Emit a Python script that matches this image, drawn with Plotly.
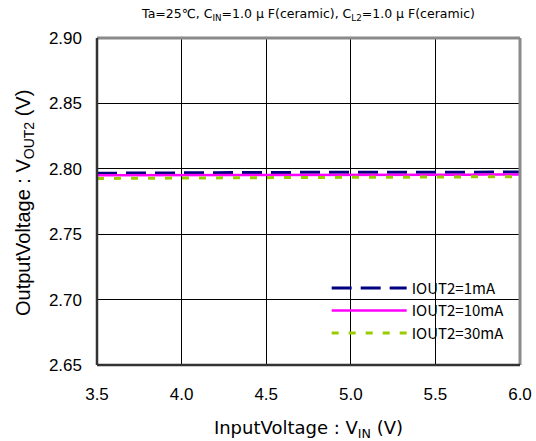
import plotly.graph_objects as go

# Input voltage sweep (V)
vin = [3.5, 3.6, 3.7, 3.8, 3.9, 4.0, 4.1, 4.2, 4.3, 4.4, 4.5, 4.6, 4.7,
       4.8, 4.9, 5.0, 5.1, 5.2, 5.3, 5.4, 5.5, 5.6, 5.7, 5.8, 5.9, 6.0]

# Output voltage VOUT2 (V) for each load current
vout_1ma = [2.7966, 2.7966, 2.7966, 2.7970, 2.7970, 2.7970, 2.7968, 2.7970,
            2.7972, 2.7972, 2.7972, 2.7972, 2.7972, 2.7972, 2.7972, 2.7972,
            2.7972, 2.7972, 2.7972, 2.7970, 2.7970, 2.7972, 2.7975, 2.7975,
            2.7975, 2.7975]
vout_10ma = [2.7950, 2.7950, 2.7950, 2.7951, 2.7951, 2.7951, 2.7951, 2.7952,
             2.7952, 2.7952, 2.7952, 2.7952, 2.7953, 2.7953, 2.7953, 2.7953,
             2.7953, 2.7954, 2.7954, 2.7954, 2.7954, 2.7955, 2.7955, 2.7956,
             2.7956, 2.7956]
vout_30ma = [2.7926, 2.7926, 2.7926, 2.7927, 2.7927, 2.7928, 2.7929, 2.7930,
             2.7931, 2.7932, 2.7932, 2.7933, 2.7933, 2.7934, 2.7934, 2.7934,
             2.7935, 2.7935, 2.7936, 2.7936, 2.7937, 2.7938, 2.7938, 2.7939,
             2.7939, 2.7940]

series = [
    ("IOUT2=1mA", vout_1ma, "#000080", "20px,9px", 3),
    ("IOUT2=10mA", vout_10ma, "#FF00FF", "solid", 2.5),
    ("IOUT2=30mA", vout_30ma, "#99CC00", "7px,10px", 3),
]

x_ticks = [3.5, 4.0, 4.5, 5.0, 5.5, 6.0]
y_ticks = [2.65, 2.70, 2.75, 2.80, 2.85, 2.90]

gothic = "Noto Sans CJK JP"
wide = "DejaVu Sans"
sans = "Liberation Sans, Arial, sans-serif"

W, H = 536, 441
M = dict(l=97, r=16, t=38, b=76)
plot_w = W - M["l"] - M["r"]
plot_h = H - M["t"] - M["b"]

fig = go.Figure()
for name, ys, color, dash, width in series:
    fig.add_trace(go.Scatter(
        x=vin, y=ys, mode="lines", name=name,
        line=dict(color=color, dash=dash, width=width),
    ))

# frame: dark left/bottom edges, lighter grey top/right edges
frame = [
    dict(x0=1, x1=1, y0=0, y1=1, color="#8a8a8a", width=3),
    dict(x0=0, x1=1, y0=1, y1=1, color="#8a8a8a", width=3),
    dict(x0=0, x1=0, y0=0, y1=1, color="#333333", width=2.5),
    dict(x0=0, x1=1, y0=0, y1=0, color="#333333", width=2.5),
]
shapes = [
    dict(type="line", xref="x domain", yref="y domain",
         x0=f["x0"], x1=f["x1"], y0=f["y0"], y1=f["y1"],
         line=dict(color=f["color"], width=f["width"]), layer="above")
    for f in frame
]

# vertical axis title, placed by hand to sit close to the page edge
y_title = dict(
    text="OutputVoltage : V<sub>OUT2</sub> (V)",
    xref="paper", yref="paper",
    x=(24 - M["l"]) / plot_w, y=(H - M["b"] - 203) / plot_h,
    xanchor="center", yanchor="middle", textangle=-90, showarrow=False,
    font=dict(family=sans, size=20, color="#000"),
)

fig.update_layout(
    width=W, height=H,
    margin=dict(**M, autoexpand=False),
    paper_bgcolor="white", plot_bgcolor="white",
    showlegend=True,
    shapes=shapes,
    annotations=[y_title],
    legend=dict(
        x=0.543, y=0.285, xanchor="left", yanchor="top",
        bgcolor="rgba(255,255,255,0)",
        font=dict(family=gothic, size=15, color="#000"),
        itemwidth=75, tracegroupgap=0,
    ),
    title=dict(
        text="Ta=25℃, C<sub>IN</sub>=1.0 μ F(ceramic), C<sub>L2</sub>=1.0 μ F(ceramic)",
        x=(97 + 520) / 2 / W, xanchor="center", y=1 - 14 / H, yanchor="middle",
        font=dict(family=wide, size=12.5, color="#000"),
    ),
    xaxis=dict(
        range=[3.5, 6.0], tickvals=x_ticks,
        ticktext=[f"{v:.1f}" for v in x_ticks],
        showgrid=True, gridcolor="#000", gridwidth=1,
        zeroline=False, showline=False, automargin=False,
        ticks="", ticklabelstandoff=17,
        tickfont=dict(family=sans, size=17, color="#000"),
        title=dict(text="InputVoltage : V<sub>IN</sub> (V)", standoff=18,
                   font=dict(family=wide, size=18, color="#000")),
    ),
    yaxis=dict(
        range=[2.65, 2.90], tickvals=y_ticks,
        ticktext=[f"{v:.2f}" for v in y_ticks],
        showgrid=True, gridcolor="#000", gridwidth=1,
        zeroline=False, showline=False, automargin=False,
        ticks="", ticklabelstandoff=14,
        tickfont=dict(family=sans, size=17, color="#000"),
    ),
)

fig.write_html("out.html")
